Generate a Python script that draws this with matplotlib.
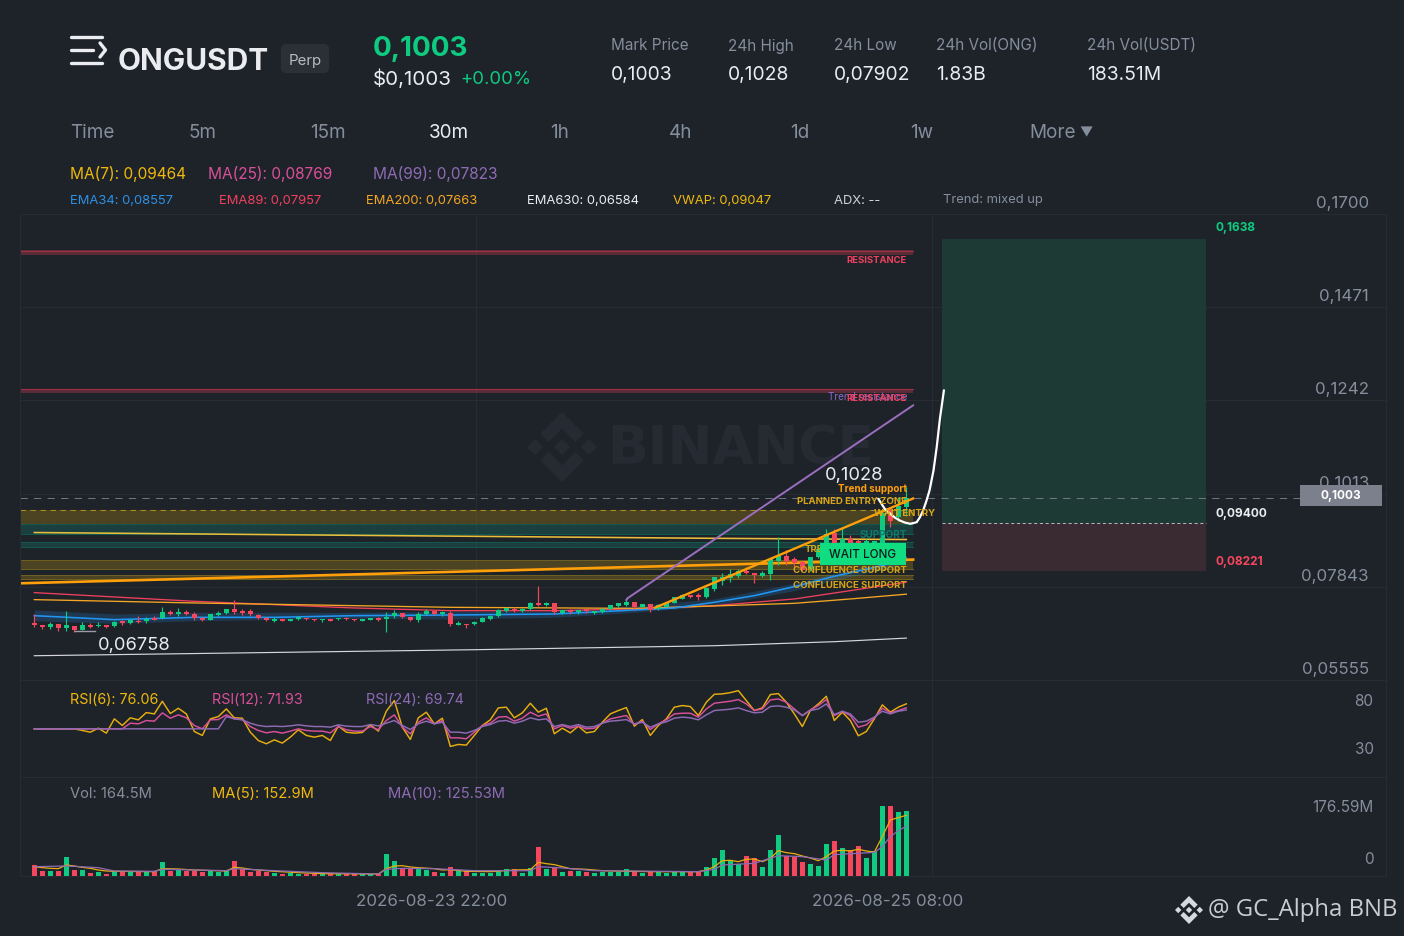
import matplotlib
matplotlib.use("Agg")
import matplotlib.pyplot as plt
import matplotlib.transforms as mt
from matplotlib.patches import Polygon, Rectangle, FancyBboxPatch
from matplotlib.lines import Line2D

plt.rcParams['font.family'] = ['Inter', 'DejaVu Sans']

W, H = 1404, 936
BG = '#1E2329'; GRID = '#272B33'; GREEN = '#0ECB81'; RED = '#F6465D'
GRAY = '#848E9C'; TXT = '#EAECEF'; YEL = '#F0B90B'; PINK = '#D9509A'; PUR = '#8E6BB5'

opens = [.06963,.06914,.06848,.06922,.06832,.06889,.06791,.06905,.06873,.06905,
 .06873,.06996,.06946,.07012,.06996,.07069,.07069,.07225,.07176,.07225,
 .07184,.07069,.07037,.07151,.07201,.07299,.07242,.07242,.07160,.07069,
 .07012,.07061,.07012,.07045,.07086,.07061,.07020,.07053,.07045,.07078,
 .07061,.07012,.07037,.07069,.07061,.07135,.07209,.07110,.07028,.07176,
 .07242,.07168,.07209,.06905,.06938,.06922,.06987,.07061,.07135,.07250,
 .07307,.07250,.07307,.07438,.07397,.07447,.07201,.07274,.07217,.07291,
 .07192,.07225,.07291,.07381,.07397,.07471,.07356,.07422,.07291,.07356,
 .07455,.07553,.07652,.07643,.07586,.07791,.07996,.08062,.08119,.08242,
 .08176,.08111,.08160,.08488,.08595,.08529,.08447,.08283,.08570,.08898,
 .09160,.08898,.09021,.08980,.08882,.08816,.08898,.09759,.09554,.09816]
highs = [.07176,.06914,.06987,.06922,.07258,.06889,.06971,.06955,.06971,.06905,
 .07012,.07020,.07020,.07135,.07110,.07119,.07340,.07274,.07324,.07274,
 .07217,.07110,.07176,.07242,.07307,.07520,.07291,.07291,.07176,.07110,
 .07094,.07061,.07045,.07094,.07086,.07061,.07061,.07053,.07086,.07094,
 .07061,.07053,.07069,.07110,.07217,.07274,.07209,.07110,.07217,.07299,
 .07258,.07242,.07242,.06996,.06938,.06996,.07102,.07151,.07291,.07340,
 .07348,.07315,.07479,.07873,.07479,.07455,.07266,.07307,.07274,.07291,
 .07250,.07315,.07406,.07455,.07570,.07471,.07422,.07422,.07422,.07447,
 .07602,.07676,.07652,.07684,.07832,.08094,.08176,.08283,.08283,.08340,
 .08176,.08242,.08537,.09057,.08750,.08570,.08488,.08586,.08800,.09267,
 .09267,.09283,.09128,.09021,.09021,.08980,.09677,.09800,.10041,.10284]
lows = [.06848,.06807,.06807,.06750,.06766,.06725,.06782,.06832,.06848,.06840,
 .06856,.06914,.06930,.06955,.06963,.07020,.07045,.07151,.07127,.07143,
 .07037,.07012,.07028,.07127,.07176,.07184,.07143,.07119,.07053,.07012,
 .06979,.06996,.06996,.07028,.07028,.07012,.06987,.06996,.07020,.07020,
 .06996,.06996,.07020,.07012,.06741,.07069,.07086,.07012,.06987,.07151,
 .07151,.07135,.06873,.06897,.06832,.06905,.06971,.07037,.07102,.07225,
 .07225,.07233,.07274,.07373,.07373,.07176,.07176,.07176,.07176,.07201,
 .07176,.07192,.07274,.07356,.07365,.07274,.07340,.07217,.07266,.07340,
 .07438,.07537,.07561,.07529,.07578,.07750,.07898,.07963,.08062,.08160,
 .07930,.08094,.08012,.08390,.08390,.08283,.08242,.08242,.08554,.08882,
 .08816,.08857,.08857,.08816,.08832,.08775,.08882,.09308,.09472,.09595]
closes = [.06905,.06848,.06930,.06832,.06897,.06791,.06905,.06848,.06914,.06856,
 .06987,.06946,.07020,.06971,.07061,.07028,.07225,.07168,.07225,.07176,
 .07078,.07020,.07176,.07201,.07307,.07233,.07192,.07176,.07078,.07028,
 .07061,.07012,.07045,.07094,.07045,.07028,.07061,.07012,.07086,.07045,
 .07020,.07053,.07069,.07037,.07110,.07201,.07110,.07028,.07168,.07242,
 .07176,.07217,.06930,.06955,.06905,.06987,.07069,.07135,.07274,.07315,
 .07250,.07299,.07447,.07389,.07447,.07225,.07266,.07225,.07274,.07242,
 .07250,.07299,.07389,.07438,.07471,.07340,.07422,.07274,.07389,.07447,
 .07602,.07652,.07586,.07586,.07816,.08078,.08078,.08160,.08242,.08185,
 .08144,.08176,.08529,.08611,.08488,.08431,.08258,.08570,.08775,.09144,
 .08898,.09021,.08898,.08857,.08980,.08964,.09652,.09472,.09825,.10030]
volumes = [27.7,12.6,12.6,13.4,47.0,15.1,15.1,6.7,10.1,5.9,
 11.8,10.1,10.1,10.9,9.2,10.1,35.3,12.6,15.1,13.4,
 13.4,10.1,11.8,10.9,12.6,37.8,16.8,10.9,13.4,10.9,
 8.4,5.9,6.7,5.9,4.2,4.2,4.2,4.2,4.2,4.2,
 5.0,4.2,4.2,4.2,55.4,37.0,16.8,16.8,16.8,15.1,
 9.2,8.4,23.5,11.8,11.8,6.7,8.4,6.7,15.1,18.5,
 16.8,8.4,19.3,73.1,16.8,23.5,10.9,11.8,13.4,9.2,
 6.7,10.1,10.1,10.1,16.8,11.8,8.4,10.9,9.2,6.7,
 10.1,10.1,11.8,10.9,21.8,44.5,65.5,38.6,30.2,50.4,
 45.4,21.8,65.5,102.5,50.4,48.7,35.3,30.2,25.2,80.6,
 87.4,70.6,65.5,75.6,45.4,62.2,176.4,176.4,160.4,164.5]

rsi6 = [50,50,50,50,50,50,48.3,46.5,50.7,45.5,
 60.4,53.5,61.5,59.4,67.0,65.6,78.8,66.0,71.5,65.6,
 47.2,43.1,60.4,62.8,70.8,61.5,61.1,46.5,37.8,34.4,
 38.5,35.1,41.3,49.0,43.1,41.3,43.1,37.8,52.8,46.5,
 45.5,46.2,54.2,47.6,68.4,79.5,51.7,38.9,61.5,67.4,
 55.2,61.1,31.6,33.7,33.0,43.1,53.5,59.4,71.9,72.6,
 61.5,66.7,76.7,67.4,71.5,44.8,50.7,45.8,52.8,45.8,
 47.2,56.9,65.6,69.1,72.2,52.8,59.7,43.1,53.5,60.4,
 72.6,74.3,73.3,63.9,77.8,86.1,86.5,87.8,89.9,79.5,
 69.1,71.9,85.8,86.8,77.8,65.6,52.4,69.1,76.0,84.0,
 58.7,67.4,58.7,42.7,47.2,60.4,75.0,67.4,72.6,76.06]
rsi12 = [50,50,50,50,50,50,50,50,50,50,
 50,50,55.9,55.2,58.7,58.0,66.7,61.1,64.6,61.5,
 53.5,50,59.4,59.7,64.6,60.4,59.7,52.4,48.3,45.8,
 47.2,45.5,47.6,50,48.3,47.6,47.6,45.8,52.4,49.0,
 47.6,47.6,52.4,49.0,58.7,64.6,51.7,44.8,56.9,61.5,
 55.2,58.7,40.6,40.6,39.6,46.5,53.5,55.9,62.2,62.8,
 58.0,61.1,67.4,63.2,65.6,50,53.5,50.7,52.8,50,
 50.7,55.9,60.4,62.2,63.9,54.5,58.0,49.3,55.2,59.4,
 65.6,66.3,66.3,62.2,70.8,76.7,77.8,78.8,80.6,76.0,
 69.1,70.8,80.2,81.2,77.8,70.8,63.9,69.8,74.3,80.6,
 63.9,68.1,63.9,51.7,54.2,61.5,71.5,66.7,69.1,71.93]
rsi24 = [50,50,50,50,50,50,50,50,50,50,
 50,50,50,50,50,50,50,50,50,50,
 50,50,50,50,62.8,60.4,59.4,55.9,53.5,52.4,
 52.8,52.4,53.1,54.2,53.1,52.4,52.4,51.7,54.2,52.8,
 52.4,52.4,54.5,53.1,55.9,58.7,53.5,49.3,55.2,58.0,
 55.2,56.9,46.5,46.5,45.5,48.3,52.4,54.5,58.0,58.7,
 55.9,58.0,61.5,59.4,60.4,52.4,54.5,52.4,54.5,51.7,
 52.4,55.9,58.0,58.7,59.7,55.2,56.9,51.7,55.2,57.3,
 61.1,62.2,61.5,59.4,64.6,69.1,69.8,70.5,71.9,69.1,
 66.7,67.4,73.3,74.0,72.6,69.8,63.9,69.1,70.8,76.0,
 64.9,68.4,65.6,56.9,58.0,62.2,68.4,65.6,68.4,69.74]

ma5_idx = [0,1,2,3,4,5,6,7,8,9,10,15,16,18,20,24,25,26,27,28,30,33,36,43,44,45,46,47,48,50,51,52,54,57,60,62,63,64,65,66,67,69,71,74,78,83,84,85,86,87,88,89,90,91,92,93,94,95,96,97,98,99,100,101,102,103,104,105,106,107,108,109]
ma5_val = [23.5,21,19.3,18.5,27.7,25.2,21.8,19.3,15.1,12.6,11.8,10.9,18.5,17.6,15.1,12.6,21.8,20.2,16.8,15.1,11.8,8.4,5.9,5.0,18.5,25.2,26,22.7,21,18.5,15.1,16,11.8,10.9,15.1,16,34.4,31.1,28.6,23.5,18.5,16.8,13.4,11.8,10.9,10.9,15.1,23.5,38.6,39.5,36.1,42,42.8,36.1,44.5,63.8,58.8,56.3,50.4,45.4,38.6,48.7,63,64.7,63,67.2,63,60.5,99.1,141.1,147,152.9]
ma10_idx = [0,4,8,10,15,16,24,25,30,36,43,44,46,50,55,62,63,66,70,83,85,86,90,93,96,99,100,105,106,107,108,109]
ma10_val = [23.5,25.2,21,12.6,11.8,16.8,13.4,18.5,13.4,8.4,5,16.8,19.3,18.5,13.4,13.4,23.5,20.2,13.4,10.9,16.8,27.7,31.9,51.2,48.7,40.3,53.8,59.6,73.9,99.1,114.2,125.53]

ema34_idx = [0,10,20,30,40,52,65,75,80,85,90,95,100,106,109]
ema34_val = [.07135,.07037,.07094,.07094,.07135,.07151,.07176,.07274,.07324,.07463,.07627,.07848,.08103,.08365,.08554]
band_idx = [0,10,20,40,52,65,75,85,95,100,106,109]
band_up = [.07274,.07176,.07217,.07217,.07242,.07242,.07381,.07545,.07930,.08176,.08422,.08611]
band_lo = [.07012,.06946,.07012,.07069,.07053,.07094,.07217,.07381,.07750,.08012,.08258,.08447]
ema89_idx = [0,20,40,52,65,78,85,95,102,109]
ema89_val = [.07701,.07488,.07324,.07258,.07258,.07315,.07381,.07545,.07750,.07957]
ema200_idx = [0,20,40,52,75,85,95,102,109]
ema200_val = [.07529,.07447,.07381,.07340,.07315,.07373,.07438,.07545,.07663]
ema630_idx = [0,55,85,100,109]
ema630_val = [.06151,.06299,.06397,.06496,.06584]
yline_idx = [0,28.2,83.2,109]
yline_val = [.09177,.09128,.09037,.09005]
oline_idx = [-1.8,109.85]
oline_val = [.07930,.08513]
trend_sup_idx = [77.6,109.85]
trend_sup_val = [.07332,.10014]
trend_res_idx = [74,74.2,109.85]
trend_res_val = [.07520,.07570,.12301]
path_idx = [105.5,105.9,106.3,107.0,107.6,108.2,108.8,109.5,110.3,110.7,111.1,111.5,111.9,112.4,112.8,113.2,113.7]
path_val = [.10006,.09883,.09760,.09637,.09539,.09472,.09423,.09391,.09431,.09553,.09718,.09947,.10210,.10702,.11276,.11974,.12670]

resist_zones = [(.15999,.16114),(.12596,.12712)]
yellow_zones = [(.08506,.08284),(.08144,.08038)]
teal_zones = [(.09391,.09145),(.08956,.08816)]
entry_zone = (.09718,.09391)
tp, entry, sl, last = .1638, .09400, .08221, .1003
box_x = (113.46, 146.46)
zone_end = 109.85
XMIN, XMAX = -1.79, 168.96

price_ticks = [.1700,.1471,.1242,.1013,.07843,.05555]
price_labels = ['0,1700','0,1471','0,1242','0,1013','0,07843','0,05555']
rsi_ticks = [80,30]; rsi_labels = ['80','30']
vol_ticks = [176.59,0]; vol_labels = ['176.59M','0']
grid_x = [55.2,112.2]
date_labels = ['2026-08-23 22:00','2026-08-25 08:00']

fig = plt.figure(figsize=(W/100,H/100),dpi=100,facecolor=BG)
px = mt.Affine2D().scale(1,-1).translate(0,H)

def mkax(top,bot,hgrid=True):
    a = fig.add_axes([20/W,1-bot/H,(1386-20)/W,(bot-top)/H],facecolor=BG)
    a.set_xlim(XMIN,XMAX)
    a.set_axisbelow(True)
    a.grid(True,axis='x',color=GRID,lw=.75)
    if hgrid:
        a.grid(True,axis='y',color=GRID,lw=.75)
    for s in a.spines.values():
        s.set_color(GRID); s.set_linewidth(.75)
    a.set_xticks(grid_x)
    a.tick_params(length=0,labelbottom=False,labelleft=False,labelright=True,colors=GRAY)
    return a

ax = mkax(214,680); ar = mkax(680,777,False); av = mkax(777,876,False)
ax.set_ylim(.05555,.17); ar.set_ylim(-0.3,101); av.set_ylim(0,249.4)
for a,t,l,pad,dy,fs in [(ax,price_ticks,price_labels,-12.3,12,12.2),(ar,rsi_ticks,rsi_labels,-9,0,11),(av,vol_ticks,vol_labels,-9,0,11)]:
    a.set_yticks(t); a.set_yticklabels(l,fontsize=fs,color=GRAY)
    a.tick_params(axis='y',pad=pad)
    for lab in a.get_yticklabels():
        lab.set_ha('right')
        lab.set_transform(lab.get_transform()+mt.ScaledTranslation(0,dy/100,fig.dpi_scale_trans))
# the zero label sits above the baseline
zl = av.get_yticklabels()[1]
zl.set_transform(zl.get_transform()+mt.ScaledTranslation(0,18/100,fig.dpi_scale_trans))
av.set_xticklabels(date_labels,fontsize=12.2,color=GRAY)
av.tick_params(axis='x',labelbottom=True,pad=13)
for lab in av.get_xticklabels():
    lab.set_transform(lab.get_transform()+mt.ScaledTranslation(-44/100,0,fig.dpi_scale_trans))

# watermark
def bnb(target_add,cx,cy,r,color,z):
    def P(pts):
        target_add(Polygon([(cx+a*r,cy+b*r) for a,b in pts],closed=True,fc=color,ec='none',transform=px,zorder=z,clip_on=False))
    d=.23
    for c in (-.77,0,.77):
        P([(c-d,0),(c,-d),(c+d,0),(c,d)])
    for s in (1,-1):
        P([(0,-1*s),(.62,-.38*s),(.38,-.14*s),(0,-.52*s),(-.38,-.14*s),(-.62,-.38*s)])
bnb(ax.add_patch,562,447,35,'#262A32',0.6)
ax.text(607,449,'BINANCE',transform=px,fontsize=38.5,fontweight='bold',family=['DejaVu Sans'],color='#262A32',va='center',ha='left',zorder=0.6,clip_on=False)

# zones
for lo,hi in resist_zones:
    ax.fill_between([XMIN,zone_end],lo,hi,color='#F6465D',alpha=.28,lw=0,zorder=1)
    ax.plot([XMIN,zone_end],[hi-.0002]*2,color='#A03044',lw=.8,zorder=1.1)
ax.fill_between([XMIN,zone_end],entry_zone[0],entry_zone[1],color=YEL,alpha=.22,lw=0,zorder=1)
for v in entry_zone:
    ax.plot([XMIN,zone_end],[v,v],color='#A98A1C',lw=.8,ls=(0,(5,4)),zorder=1.1)
for a_,b_ in teal_zones:
    ax.fill_between([XMIN,zone_end],a_,b_,color='#11A08A',alpha=.22,lw=0,zorder=1)
    for v in (a_,b_):
        ax.plot([XMIN,zone_end],[v,v],color='#12584F',lw=.75,zorder=1.1)
for a_,b_ in yellow_zones:
    ax.fill_between([XMIN,zone_end],a_,b_,color=YEL,alpha=.22,lw=0,zorder=1)
    for v in (a_,b_):
        ax.plot([XMIN,zone_end],[v,v],color='#6D5E22',lw=.75,zorder=1.1)

# long box
ax.add_patch(Rectangle((box_x[0],entry),box_x[1]-box_x[0],tp-entry,fc='#1D3A35',ec='none',zorder=1))
ax.add_patch(Rectangle((box_x[0],sl),box_x[1]-box_x[0],entry-sl,fc='#3A2A31',ec='none',zorder=1))
ax.plot(box_x,[entry,entry],color='#AEB4BA',lw=.75,ls=(0,(3,2.5)),zorder=1.2)
ax.plot([XMIN,XMAX],[last,last],color='#6F7580',lw=.75,ls=(0,(7,6)),zorder=1.5)

# moving lines
ax.fill_between(band_idx,band_lo,band_up,color='#2196F3',alpha=.2,lw=0,zorder=2)
ax.plot(ema630_idx,ema630_val,color='#D5D7DA',lw=.85,zorder=2)
ax.plot(ema200_idx,ema200_val,color='#F5A623',lw=.95,zorder=2.2)
ax.plot(ema89_idx,ema89_val,color='#F0405F',lw=.95,zorder=2.1)
ax.plot(ema34_idx,ema34_val,color='#2196F3',lw=1.15,zorder=2.3)
ax.plot(yline_idx,yline_val,color='#E8BE3C',lw=1.15,zorder=2.4)
ax.plot(oline_idx,oline_val,color='#FF9F0A',lw=1.9,zorder=2.5)

# candles
idx = list(range(len(closes)))
cols = [GREEN if c>=o else RED for o,c in zip(opens,closes)]
ax.vlines(idx,lows,highs,colors=cols,lw=.85,zorder=3)
ax.bar(idx,[abs(c-o) for o,c in zip(opens,closes)],bottom=[min(o,c) for o,c in zip(opens,closes)],width=.62,color=cols,lw=0,zorder=3.1)

ax.plot(trend_sup_idx,trend_sup_val,color='#FF9F0A',lw=1.7,zorder=3.3)
ax.plot(trend_res_idx,trend_res_val,color='#9B6FC0',lw=1.4,zorder=3.3)
ax.plot(path_idx,path_val,color='#FFFFFF',lw=1.6,zorder=4,solid_capstyle='round')

# RSI
ar.plot(idx,rsi6,color='#E8AE0F',lw=1.05)
ar.plot(idx,rsi12,color='#D9509A',lw=1.05)
ar.plot(idx,rsi24,color='#8E6BB5',lw=1.05)

# volume
av.bar(idx,volumes,width=.65,color=cols,lw=0,zorder=2)
av.plot(ma5_idx,ma5_val,color='#E8AE0F',lw=.9,zorder=3)
av.plot(ma10_idx,ma10_val,color='#8E6BB5',lw=.9,zorder=3)

def T(x,y,s,size,color=TXT,weight='normal',ha='left',z=5,**kw):
    return fig.text(x,y+1.5,s,transform=px,fontsize=size,color=color,fontweight=weight,ha=ha,va='center',zorder=z,**kw)

# header icon
for xs,ys in [((71,102),(37,37)),((71,93),(50,50)),((71,102),(63,63)),((100,105.5,100),(43,50,57))]:
    fig.add_artist(Line2D(xs,ys,transform=px,color=TXT,lw=2.4,solid_capstyle='round',solid_joinstyle='round'))
T(118,60,'ONGUSDT',21.5,weight='bold')
fig.add_artist(FancyBboxPatch((283,46),44,25,boxstyle='round,pad=0,rounding_size=3',fc='#2B2F36',ec='#2B2F36',lw=3,transform=px,zorder=2))
T(305,59.5,'Perp',10.8,color='#B7BDC6',ha='center')
T(373,47,'0,1003',20,color=GREEN,weight='bold')
T(373,78,'$0,1003',14.8)
T(460,78,'+0.00%',13.3,color=GREEN)
for x,a_,b_ in [(611,'Mark Price','0,1003'),(728,'24h High','0,1028'),(834,'24h Low','0,07902'),(936,'24h Vol(ONG)','1.83B'),(1087,'24h Vol(USDT)','183.51M')]:
    T(x,44.5,a_,11,color=GRAY); T(x,73.5,b_,13.9)
for x,s,c in [(70,'Time',GRAY),(189,'5m',GRAY),(310,'15m',GRAY),(429,'30m',TXT),(550,'1h',GRAY),(669,'4h',GRAY),(790,'1d',GRAY),(910,'1w',GRAY),(1029,'More',GRAY)]:
    T(x,132,s,13.6,color=c)
T(1079,132,'▼',9.5,color=GRAY)
for x,s,c in [(70,'MA(7): 0,09464',YEL),(208,'MA(25): 0,08769',PINK),(373,'MA(99): 0,07823',PUR)]:
    T(x,173,s,11.1,color=c)
for x,s,c in [(70,'EMA34: 0,08557','#2E90E5'),(219,'EMA89: 0,07957','#F0405F'),(366,'EMA200: 0,07663','#F5A623'),(527,'EMA630: 0,06584',TXT),(673,'VWAP: 0,09047',YEL),(834,'ADX: --','#D0D4DA'),(943,'Trend: mixed up',GRAY)]:
    T(x,199,s,9.35,color=c)
for x,s,c in [(70,'RSI(6): 76.06',YEL),(212,'RSI(12): 71.93',PINK),(366,'RSI(24): 69.74',PUR)]:
    T(x,698,s,10.3,color=c)
for x,s,c in [(70,'Vol: 164.5M',GRAY),(212,'MA(5): 152.9M',YEL),(388,'MA(10): 125.53M',PUR)]:
    T(x,793,s,10.6,color=c)

# chart labels
Y2 = '#D9A514'
T(907,259,'RESISTANCE',6.8,color='#F0405F',weight='bold',ha='right')
T(907,395,'Trend resistance',7.2,color='#8E6BC9',ha='right')
T(907,397,'RESISTANCE',6.8,color='#F0405F',weight='bold',ha='right')
T(825,474,'0,1028',13.2,color=TXT)
T(98,644,'0,06758',13.2,color=TXT)
fig.add_artist(Line2D((75,95),(631,631),transform=px,color='#9A9DA3',lw=1.0))
T(907,487,'Trend support',7.1,color='#FF9F0A',weight='bold',ha='right')
T(907,500,'PLANNED ENTRY ZONE',6.9,color=Y2,weight='bold',ha='right')
T(935,512,'WAIT ENTRY',6.9,color=Y2,weight='bold',ha='right')
T(907,533,'SUPPORT',7.2,color='#0F7A6B',weight='bold',ha='right')
T(805,548,'TREND',6.9,color=Y2,weight='bold')
T(907,569,'CONFLUENCE SUPPORT',6.9,color=Y2,weight='bold',ha='right')
T(907,584,'CONFLUENCE SUPPORT',6.9,color=Y2,weight='bold',ha='right')
fig.add_artist(Rectangle((820,543),86,22,fc='#10DC80',ec='none',transform=px,zorder=6))
T(863,553.5,'WAIT LONG',8.4,color='#13191F',weight='medium',ha='center',z=7)
T(1215,227,'0,1638',8.6,color=GREEN,weight='bold')
T(1215,512.5,'0,09400',8.6,color=TXT,weight='bold')
T(1215,560,'0,08221',8.6,color=RED,weight='bold')
fig.add_artist(Rectangle((1300,485),82,21,fc='#7B808C',ec='none',transform=px,zorder=6))
T(1341,495,'0,1003',8.6,color='white',weight='bold',ha='center',z=7)

# signature
T(1208,909,'@ GC_Alpha BNB',17.2,color='#C9CDD2',family=['Open Sans','DejaVu Sans'])
bnb(fig.add_artist,1189,910,14,'#D6D9DD',5)

fig.savefig('out.png',dpi=100,facecolor=BG)
